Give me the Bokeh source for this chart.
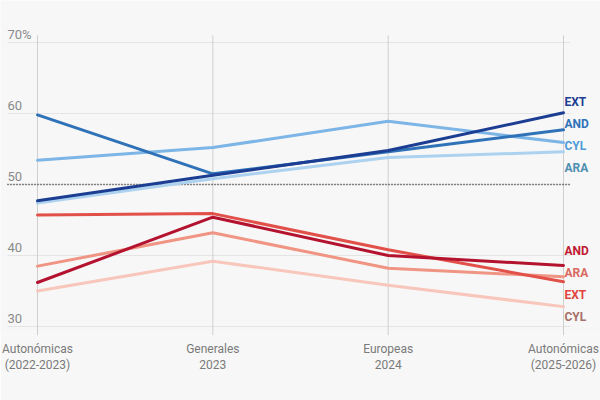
from bokeh.plotting import figure
from bokeh.models import ColumnDataSource, FixedTicker
from bokeh.core.properties import value
from bokeh.embed import file_html
from bokeh.resources import INLINE

# Elections on the x axis
elections = ["Autonómicas\n(2022-2023)", "Generales\n2023", "Europeas\n2024", "Autonómicas\n(2025-2026)"]
y_ticks = [30, 40, 50, 60, 70]
y_tick_labels = ["30", "40", "50", "60", "70%"]

# Right-wing bloc (% of vote) by region
right_ext = [47.7, 51.3, 54.8, 60.1]
right_and = [59.8, 51.5, 54.6, 57.7]
right_cyl = [53.4, 55.2, 58.9, 55.9]
right_ara = [47.4, 50.8, 53.8, 54.6]

# Left-wing bloc (% of vote) by region
left_and = [36.2, 45.4, 40.0, 38.6]
left_ext = [45.7, 45.9, 40.8, 36.3]
left_ara = [38.5, 43.2, 38.2, 37.0]
left_cyl = [35.0, 39.2, 35.8, 32.8]

right_regions = ["EXT", "AND", "CYL", "ARA"]
left_regions = ["AND", "ARA", "EXT", "CYL"]

BG = "#f7f7f7"
FONT = "Roboto"

x = list(range(len(elections)))
px_per_x = (563 - 37) / 3.0
px_per_y = 7.1
frame_h = 335

p = figure(
    width=600, height=400,
    x_range=(-37 / px_per_x, 3 + 37 / px_per_x),
    y_range=(50 - (frame_h - 184) / px_per_y, 50 + 184 / px_per_y),
    output_backend="svg", toolbar_location=None,
    y_axis_location=None,
    min_border_left=0, min_border_right=0, min_border_top=0, min_border_bottom=400 - frame_h,
)
p.background_fill_color = BG
p.border_fill_color = BG
p.outline_line_color = None
p.xgrid.visible = False
p.ygrid.visible = False

# x axis with two-line election labels
ax = p.xaxis[0]
ax.ticker = FixedTicker(ticks=x)
ax.major_label_overrides = {i: lab for i, lab in enumerate(elections)}
ax.axis_line_color = None
ax.major_tick_line_color = None
ax.minor_tick_line_color = None
ax.major_tick_in = 0
ax.major_tick_out = 0
ax.major_label_standoff = 6
ax.major_label_text_font = FONT
ax.major_label_text_font_size = "12px"
ax.major_label_text_line_height = 1.15
ax.major_label_text_color = "#7a7a7a"

x_left = (7 - 37) / px_per_x
x_right = (570 - 37) / px_per_x
y_bottom = p.y_range.start

# horizontal gridlines
p.segment(x0=[x_left] * len(y_ticks), x1=[x_right] * len(y_ticks),
          y0=y_ticks, y1=y_ticks, line_color="#e4e4e4", line_width=1)
# vertical election lines
p.segment(x0=x, x1=x, y0=[71.0] * len(x), y1=[y_bottom] * len(x),
          line_color="#cfcfcf", line_width=1)

# y tick labels sitting above their gridlines
p.text(x=[x_left] * len(y_ticks), y=y_ticks, text=y_tick_labels,
       text_font=value(FONT), text_font_size="13px", text_color="#8a8a8a",
       text_align="left", text_baseline="middle", y_offset=-8)

# 50% reference line
p.segment(x0=[x_left], x1=[x_right], y0=[50], y1=[50],
          line_color="#222222", line_width=1.6, line_dash="1 2")

def draw(vals, color):
    p.line(x=x, y=vals, line_color=color, line_width=3,
           line_join="round", line_cap="round")

# left bloc, lightest first
draw(left_cyl, "#f8c6ba")
draw(left_ara, "#f09483")
draw(left_ext, "#e2504a")
draw(left_and, "#b4132f")
# right bloc, lightest first
draw(right_ara, "#acd2f0")
draw(right_cyl, "#7cb5e6")
draw(right_and, "#2f72b8")
draw(right_ext, "#1b3d92")

# region labels on the right edge
right_label_colors = ["#1b3d92", "#2f72b8", "#4d9bd8", "#4f8fb0"]
left_label_colors = ["#c01a32", "#da6a60", "#e2443e", "#a87068"]
step = 3.1
right_label_y = [61.6 - i * step for i in range(len(right_regions))]
left_label_y = [40.7 - i * step for i in range(len(left_regions))]

src_r = ColumnDataSource(dict(x=[3] * 4, y=right_label_y, t=right_regions, c=right_label_colors))
src_l = ColumnDataSource(dict(x=[3] * 4, y=left_label_y, t=left_regions, c=left_label_colors))
for src in (src_r, src_l):
    p.text(x="x", y="y", text="t", text_color="c", source=src,
           text_font=value(FONT), text_font_style="bold", text_font_size="12px",
           text_align="left", text_baseline="middle", x_offset=1)

open("out.html", "w").write(file_html(p, INLINE))
